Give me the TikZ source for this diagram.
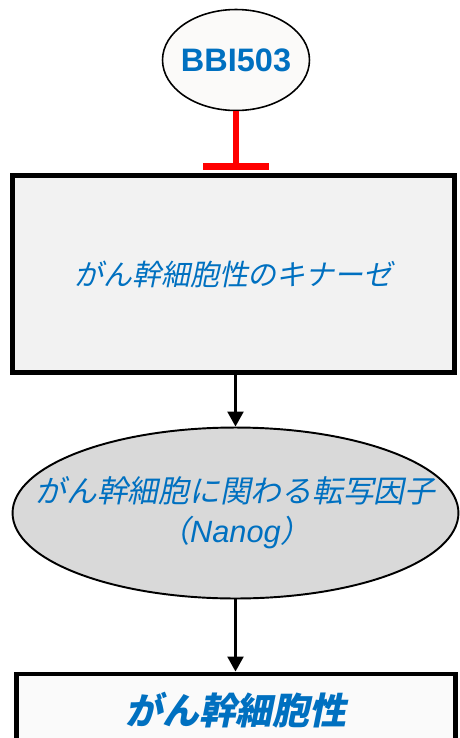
\documentclass[tikz,border=0pt]{standalone}
\usepackage{fontspec}
\setmainfont{Liberation Sans}
\newfontfamily\jpfont[FakeSlant=0.2]{Noto Sans CJK JP}
\usepackage{xcolor}
\usepackage{tikz}
\usetikzlibrary{arrows.meta,shapes.geometric,positioning,calc}
\definecolor{textblue}{RGB}{0,112,192}
\definecolor{inhibred}{RGB}{255,0,0}
\definecolor{kinbg}{RGB}{242,242,242}
\definecolor{tfbg}{RGB}{217,217,217}
\definecolor{drugbg}{RGB}{251,250,249}
\definecolor{stembg}{RGB}{250,250,250}

\begin{document}
\begin{tikzpicture}[
    x=0.02cm, y=-0.02cm,
    drug/.style   = {ellipse, draw=black, line width=0.9pt, fill=drugbg, inner sep=0pt,
                     minimum width=2.94cm, minimum height=2.02cm},
    druglabel/.style = {font=\fontsize{18.5}{22}\selectfont\bfseries\color{textblue}},
    kinbox/.style = {rectangle, draw=black, line width=2.8pt, fill=kinbg, inner sep=0pt,
                     minimum width=8.84cm, minimum height=3.94cm,
                     font=\fontsize{16.5}{20}\selectfont\jpfont\color{textblue}},
    tfell/.style  = {ellipse, draw=black, line width=1.1pt, fill=tfbg, inner sep=0pt,
                     minimum width=8.92cm, minimum height=3.42cm},
    tflabel/.style = {align=center, inner sep=0pt,
                     font=\fontsize{17.5}{22.7}\selectfont\jpfont\color{textblue}},
    stembox/.style= {rectangle, draw=black, line width=2.8pt, fill=stembg, inner sep=0pt,
                     minimum width=8.8cm, minimum height=1.44cm,
                     font=\fontsize{21}{24}\selectfont\jpfont\bfseries\color{textblue}},
    arr/.style    = {-{Triangle[length=8.5pt, width=9pt]}, line width=1.5pt, draw=black},
    inhib/.style  = {-{Bar[width=37pt, line width=4pt]}, line width=3.4pt, draw=inhibred,
                     shorten >=1.5pt}
  ]
    \useasboundingbox (0,0) rectangle (460,738);
    \clip (0,0) rectangle (460,738);

    \node[drug, label={[druglabel]center:BBI503}] (bbi) at (236,60) {};
    \node[kinbox]  (kin)  at (233.5,274) {がん幹細胞性のキナーゼ};
    \node[tfell, label={[tflabel]center:がん幹細胞に関わる転写因子\\（{\itshape\rmfamily Nanog}）}]
                   (tf)   at (235.5,513) {};
    \node[stembox] (stem) at (236,710)   {がん幹細胞性};

    \draw[inhib] (bbi.south) -- (bbi.south |- kin.north);
    \draw[arr] (kin.south -| tf.north) -- (tf.north);
    \draw[arr] (tf.south) -- (tf.south |- stem.north);
  \end{tikzpicture}
\end{document}
